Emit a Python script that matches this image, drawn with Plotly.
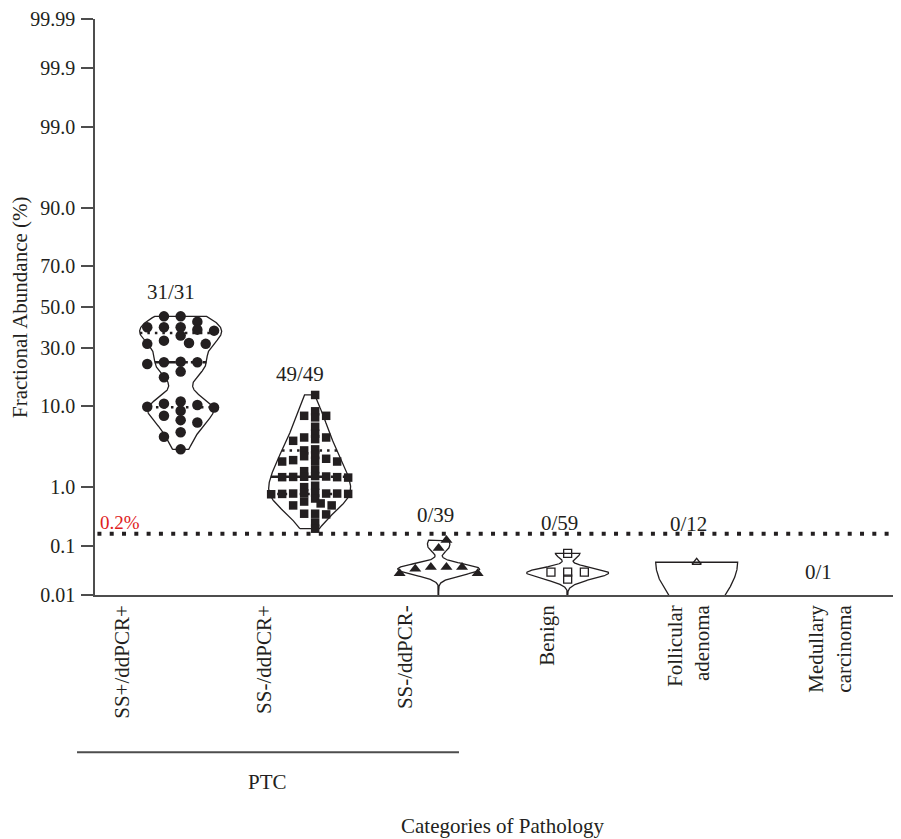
import numpy as np
import plotly.graph_objects as go
from statistics import NormalDist

# ---------------- data ----------------
categories = ["SS+/ddPCR+", "SS-/ddPCR+", "SS-/ddPCR-", "Benign",
              "Follicular<br>adenoma", "Medullary<br>carcinoma"]
group_label = "PTC"
group_members = [0, 1, 2]
n_total = [31, 49, 39, 59, 12, 1]
n_positive = [31, 49, 0, 0, 0, 0]
threshold_pct = 0.17
threshold_text = "0.2%"
y_tick_values = [0.01, 0.1, 1.0, 10.0, 30.0, 50.0, 70.0, 90.0, 99.0, 99.9, 99.99]
y_tick_labels = ["0.01", "0.1", "1.0", "10.0", "30.0", "50.0", "70.0", "90.0", "99.0", "99.9", "99.99"]

ss_pos_ddpcr_pos = [45.2, 45.2, 42.5, 39.7, 39.7, 39.7, 38.5, 38.0, 35.6, 33.2, 32.1,
                    31.7, 31.7, 24.0, 23.8, 23.8, 23.1, 20.2, 18.2, 11.1, 10.6, 10.3,
                    9.9, 9.7, 9.0, 8.0, 7.2, 6.8, 5.3, 4.7, 3.3]
ss_neg_ddpcr_pos = [12.8, 8.9, 8.0, 8.0, 7.7, 6.1, 5.1, 4.6, 4.6, 4.4, 4.2, 3.3, 3.2,
                    2.8, 2.7, 2.5, 2.4, 2.35, 2.3, 2.3, 1.8, 1.7, 1.45, 1.43, 1.42,
                    1.41, 1.40, 1.40, 1.38, 1.05, 1.0, 0.82, 0.81, 0.80, 0.80, 0.80,
                    0.79, 0.79, 0.78, 0.67, 0.60, 0.56, 0.52, 0.52, 0.38, 0.38, 0.37,
                    0.27, 0.21]
ss_neg_ddpcr_neg = [0.13, 0.092, 0.039, 0.039, 0.039, 0.036, 0.029, 0.029]  # visible part
benign = [0.073, 0.031, 0.031, 0.031, 0.022]                                 # visible part
follicular_adenoma = [0.049]                                                 # visible part
medullary_carcinoma = []

series = [ss_pos_ddpcr_pos, ss_neg_ddpcr_pos, ss_neg_ddpcr_neg, benign,
          follicular_adenoma, medullary_carcinoma]

# ---------------- styles ----------------
FONT = "Liberation Serif"
INK = "#231f20"
AXC = "#4d4d4d"
symbols = ["circle", "square", "triangle-up", "square-open", "triangle-up-open", "circle"]
msizes = [10.5, 8.5, 10.5, 8, 8, 8]
swarm_sx = [16.7, 11, 15.6, 16.7, 16, 16]    # px horizontal spacing
swarm_sy = [8, 5.5, 9, 7, 7, 7]              # px vertical spacing
bandwidths = [0.14, 0.17, 0.06, 0.06, 0.5, 0.1]
count_shift = [(-10, 24), (-10, 21), (-3, 19), (-8, 11), (-8, 10), (-7, 23)]

# page body has an 8px margin -> figure is 8px smaller than the window
W, H = 893, 831
ML, MR, MT, MB = 87, 0, 9, 244
PW, PH = W - ML - MR, H - MT - MB
XR = [-0.664, 5.584]
X2R = [-0.195, -0.195 + PW / 141.5]
VIOLIN_HALF_W_PX = 41

nd = NormalDist()


def probit(p):
    return nd.inv_cdf(p / 100.0)


ZR = [probit(y_tick_values[0]), probit(y_tick_values[-1])]
px_per_z = PH / (ZR[1] - ZR[0])
px_per_x = PW / (XR[1] - XR[0])
hw_x = VIOLIN_HALF_W_PX / px_per_x


def beeswarm(zs, sx, sy):
    ys = [z * px_per_z for z in zs]
    order = sorted(range(len(zs)), key=lambda i: -zs[i])
    cands = [0]
    for k in range(1, 60):
        cands += [-k, k]
    placed, offs = [], [0.0] * len(zs)
    for i in order:
        y = ys[i]
        for k in cands:
            dx = k * sx / 2.0
            if all(((dx - px) / sx) ** 2 + ((y - py) / sy) ** 2 >= 0.999 for px, py in placed):
                break
        placed.append((dx, y))
        offs[i] = dx
    if offs:
        c = (max(offs) + min(offs)) / 2.0
        offs = [o - c for o in offs]
    return offs


fig = go.Figure()

for gi, vals in enumerate(series):
    if not vals:
        continue
    zs = np.array([probit(v) for v in vals])
    h = bandwidths[gi]
    complete = len(vals) == n_total[gi]
    lo = zs.min() if complete else ZR[0] - 0.6
    hi = zs.max()
    grid = np.linspace(lo, hi, 300)
    dens = np.exp(-0.5 * ((grid[:, None] - zs[None, :]) / h) ** 2).sum(axis=1)
    hw = dens / dens.max() * hw_x
    xs = np.concatenate([gi - hw, (gi + hw)[::-1], [gi - hw[0]]])
    ys = np.concatenate([grid, grid[::-1], [grid[0]]])
    fig.add_trace(go.Scatter(x=xs, y=ys, mode="lines", line=dict(color=INK, width=1.3),
                             hoverinfo="skip", showlegend=False))
    if complete:
        q1, med, q3 = np.percentile(vals, [25, 50, 75])
        for q, dash, wd in [(q1, "2.5px,5px", 2.5), (q3, "2.5px,5px", 2.5), (med, "9px,3px", 2.6)]:
            zq = probit(q)
            w = np.interp(zq, grid, hw)
            fig.add_trace(go.Scatter(x=[gi - w, gi + w], y=[zq, zq], mode="lines",
                                     line=dict(color=INK, width=wd, dash=dash),
                                     hoverinfo="skip", showlegend=False))
    offs = beeswarm(list(zs), swarm_sx[gi], swarm_sy[gi])
    fig.add_trace(go.Scatter(
        x=[gi + o / px_per_x for o in offs], y=zs, mode="markers",
        marker=dict(symbol=symbols[gi], size=msizes[gi], color=INK,
                    line=dict(color=INK, width=1.3 if "open" in symbols[gi] else 0)),
        hoverinfo="skip", showlegend=False))

# invisible trace to activate xaxis2 (category labels)
fig.add_trace(go.Scatter(x=[0], y=[ZR[0]], xaxis="x2", mode="markers",
                         marker=dict(opacity=0), hoverinfo="skip", showlegend=False))

# threshold
zt = probit(threshold_pct)
fig.add_shape(type="line", xref="paper", x0=0.003, x1=1, yref="y", y0=zt, y1=zt,
              line=dict(color=INK, width=4, dash="4px,8.3px"))
fig.add_annotation(xref="paper", x=0, xanchor="left", xshift=3, yref="y", y=zt, yshift=11,
                   yanchor="middle", text=threshold_text, showarrow=False,
                   font=dict(family=FONT, size=19, color="#e0201b"))

# count labels
for gi, vals in enumerate(series):
    if n_positive[gi] > 0:
        yv = max(probit(v) for v in vals)
    elif vals:
        yv = zt
    else:
        yv = ZR[0]
    dx, dy = count_shift[gi]
    fig.add_annotation(x=gi, y=yv, xshift=dx, yshift=dy, xanchor="center", yanchor="middle",
                       text=f"{n_positive[gi]}/{n_total[gi]}",
                       showarrow=False, font=dict(family=FONT, size=21, color=INK))

# PTC bracket
fig.add_shape(type="line", xref="paper", x0=-0.0223, x1=0.4516,
              yref="paper", y0=-0.2728, y1=-0.2728, line=dict(color=AXC, width=2))
fig.add_annotation(xref="paper", x=0.2146, yref="paper", y=-0.3253, xanchor="center", yanchor="middle",
                   text=group_label, showarrow=False, font=dict(family=FONT, size=21, color=INK))

fig.add_annotation(xref="paper", x=0.506, yref="paper", y=-0.4014, xanchor="center", yanchor="middle",
                   text="Categories of Pathology",
                   showarrow=False, font=dict(family=FONT, size=21, color=INK))
fig.add_annotation(xref="paper", x=-0.093, yref="paper", y=0.5, textangle=-90,
                   xanchor="center", yanchor="middle",
                   text="Fractional Abundance (%)", showarrow=False,
                   font=dict(family=FONT, size=21, color=INK))

fig.update_layout(
    width=W, height=H, margin=dict(l=ML, r=MR, t=MT, b=MB),
    paper_bgcolor="white", plot_bgcolor="white", showlegend=False,
    font=dict(family=FONT, color=INK),
    xaxis=dict(range=XR, showgrid=False, zeroline=False, showline=True, linecolor=AXC,
               linewidth=1.5, showticklabels=False, ticks=""),
    xaxis2=dict(range=X2R, overlaying="x", side="bottom", anchor="y", showgrid=False,
                zeroline=False, showline=False, tickmode="array",
                tickvals=list(range(len(categories))), ticktext=categories,
                tickangle=-90, ticks="", ticklabelstandoff=5, ticklabeloverflow="allow",
                tickfont=dict(family=FONT, size=21, color=INK)),
    yaxis=dict(range=ZR, showgrid=False, zeroline=False, showline=True, linecolor=AXC,
               linewidth=1.5, ticks="outside", ticklen=12, tickwidth=1.5, tickcolor=AXC,
               ticklabelstandoff=2, ticklabeloverflow="allow",
               tickmode="array", tickvals=[probit(v) for v in y_tick_values],
               ticktext=y_tick_labels, tickfont=dict(family=FONT, size=20, color=INK)),
)

fig.write_html("out.html")
